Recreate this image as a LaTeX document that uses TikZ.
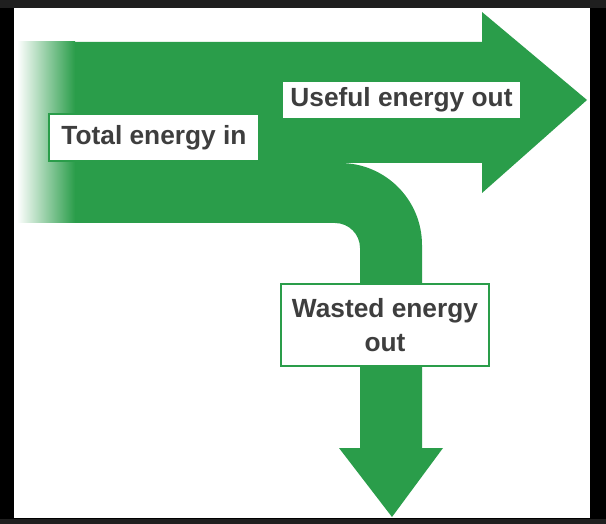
\documentclass[tikz,border=0pt]{standalone}
\usepackage{fontspec}
\setmainfont{Liberation Sans}
\definecolor{arrowgreen}{RGB}{42,157,74}
\definecolor{labelgray}{RGB}{62,62,62}
\definecolor{frametop}{RGB}{31,31,31}
\begin{document}
\begin{tikzpicture}[x=1pt,y=-1pt,
  lbl/.style={fill=white, text=labelgray, font=\fontsize{26.3}{34}\selectfont\bfseries, inner sep=0pt, align=center},
  boxed/.style={lbl, draw=arrowgreen, line width=2.5pt}]
\useasboundingbox (0,0) rectangle (606,524);
% frame
\fill[black] (0,0) rectangle (606,524);
\fill[frametop] (0,0) rectangle (606,8);
\fill[frametop] (0,519) rectangle (606,524);
\fill[white] (14,8) rectangle (590,518);
% main arrow shape
\fill[arrowgreen] (70,42) -- (482,42) -- (482,12) -- (587,100) -- (482,193) -- (482,163) -- (340,163)
  arc[start angle=-90, end angle=0, radius=82] -- (422,448) -- (443,448) -- (392,517) -- (339,448) -- (360,448) -- (360,248)
  arc[start angle=0, end angle=-90, radius=25] -- (70,223) -- cycle;
% gradient start of the band
\shade[left color=white, right color=arrowgreen] (17,42) rectangle (75,223);
% labels
\node[boxed, minimum width=210pt, minimum height=47pt] (total) at (154,137.5) {Total energy in};
\node[lbl, minimum width=237pt, minimum height=36pt] (useful) at (401.5,100) {Useful energy out};
\node[boxed, minimum width=208pt, minimum height=82pt] (wasted) at (385,325) {Wasted energy\\out};
\end{tikzpicture}
\end{document}
